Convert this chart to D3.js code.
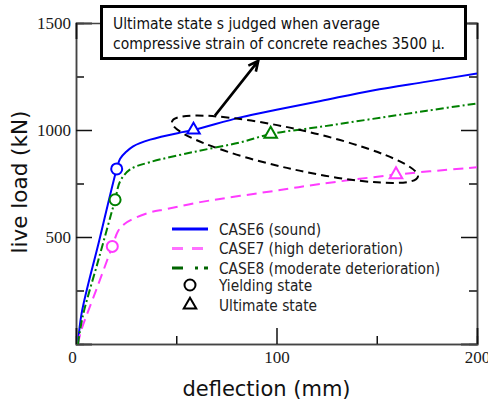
<!DOCTYPE html>
<html>
<head>
<meta charset="utf-8">
<script src="https://cdn.jsdelivr.net/npm/d3@7"></script>
<style>
  body { margin: 0; background: #fff; }
  .cond { font-family: "DejaVu Sans Condensed", "DejaVu Sans", sans-serif; font-stretch: condensed; }
</style>
</head>
<body>
<div class="vis-loadcurve"></div>
<script>
// load - deflection curves
const case6Deflection = [1, 2.8, 11.5, 20.3, 22, 25, 28.5, 37, 53, 58.6, 82, 100, 122, 148, 175, 200];
const case6Load = [0, 143, 480, 818, 866, 898, 924, 955, 990, 1000, 1059, 1095, 1136, 1185, 1226, 1264];
const case7Deflection = [1, 2.5, 10.3, 18.1, 21, 24, 28.5, 37, 45, 62, 100, 122, 160, 200];
const case7Load = [0, 60, 258, 456, 528, 560, 585, 615, 630, 663, 717, 748, 792, 826];
const case8Deflection = [1, 3.3, 11.4, 19.5, 22, 27, 37, 60, 82, 97.1, 122, 148, 175, 200];
const case8Load = [0, 127, 400, 674, 760, 816, 850, 900, 942, 981, 1015, 1052, 1090, 1124];

// yielding / ultimate points, order: CASE6, CASE7, CASE8
const yieldDeflection = [20.3, 18.1, 19.5];
const yieldLoad = [818, 456, 674];
const ultimateDeflection = [58.6, 159.6, 97.1];
const ultimateLoad = [1000, 792, 981];

const seriesNames = ['CASE6 (sound)', 'CASE7 (high deterioration)', 'CASE8 (moderate deterioration)'];
const markerNames = ['Yielding state', 'Ultimate state'];

const xMajorTicks = [0, 100, 200];
const xMinorTicks = [50, 150];
const yMajorTicks = [0, 500, 1000, 1500];
const yMinorTicks = [250, 750, 1250];

const noteLines = ['Ultimate state s judged when average', 'compressive strain of concrete reaches 3500 \u03bc.'];
const ellipseCenter = [109.2, 910];
const arrowFrom = [69.3, 1067];
const arrowTo = [90.9, 1323];

const colors = ['#0000ff', '#ff3cff', '#008000'];
const legendColors = ['#0000ff', '#ff70ff', '#006400'];
const dashes = [null, '10,6', '8,3,2,3'];
const legendDashes = [null, '11,9', '11,12,3,6'];

const draw = () => {
  const margin = { top: 23, right: 11, bottom: 59, left: 76 };
  const width = 488 - margin.left - margin.right;
  const height = 403 - margin.top - margin.bottom;
  const root = d3.select('.vis-loadcurve').append('svg')
    .attr('width', 488).attr('height', 403);
  const svg = root.append('g')
    .attr('transform', `translate(${margin.left},${margin.top})`);

  const x = d3.scaleLinear().domain([0, 200]).range([0, width]);
  const y = d3.scaleLinear().domain([0, 1500]).range([height, 0]);

  const styleAxis = (g) => {
    g.select('.domain').attr('stroke', '#444').attr('stroke-width', 1.5);
    g.selectAll('.tick line').attr('stroke', '#111').attr('stroke-width', 1.5);
    g.selectAll('.tick text')
      .attr('font-family', '"Liberation Serif", "Times New Roman", serif')
      .attr('font-size', 17).attr('fill', '#1a1a1a');
  };

  // axes (ticks point inward)
  svg.append('g').call(d3.axisLeft(y).tickValues(yMinorTicks).tickSize(-8).tickFormat(''))
    .call(styleAxis);
  svg.append('g').call(d3.axisLeft(y).tickValues(yMajorTicks).tickSize(-16).tickPadding(5)
    .tickFormat((d) => (d === 0 ? '' : d))).call(styleAxis);
  svg.append('g').attr('transform', `translate(${width},0)`)
    .call(d3.axisRight(y).tickValues(yMinorTicks).tickSize(-8).tickFormat('')).call(styleAxis);
  svg.append('g').attr('transform', `translate(${width},0)`)
    .call(d3.axisRight(y).tickValues(yMajorTicks).tickSize(-16).tickFormat('')).call(styleAxis);
  svg.append('g').call(d3.axisTop(x).tickValues(xMajorTicks).tickSize(-16).tickFormat(''))
    .call(styleAxis);
  svg.append('g').attr('transform', `translate(0,${height})`)
    .call(d3.axisBottom(x).tickValues(xMinorTicks).tickSize(-8).tickFormat('')).call(styleAxis);
  const xAxis = svg.append('g').attr('transform', `translate(0,${height})`)
    .call(d3.axisBottom(x).tickValues(xMajorTicks).tickSize(-16).tickPadding(7)).call(styleAxis);
  xAxis.selectAll('.tick text').filter((d) => d === 0).attr('dx', -4);

  // axis titles
  root.append('text')
    .attr('x', 266.5).attr('y', 396)
    .attr('text-anchor', 'middle')
    .attr('font-family', '"DejaVu Sans", sans-serif').attr('font-size', 21).attr('fill', '#111')
    .text('deflection (mm)');
  root.append('text')
    .attr('transform', 'translate(27,182) rotate(-90)')
    .attr('text-anchor', 'middle')
    .attr('font-family', '"DejaVu Sans", sans-serif').attr('font-size', 21.5).attr('fill', '#111')
    .text('live load (kN)');

  // curves
  svg.append('clipPath').attr('id', 'plot-clip')
    .append('rect').attr('width', width).attr('height', height);
  const line = d3.line().x((d) => x(d[0])).y((d) => y(d[1])).curve(d3.curveCatmullRom.alpha(0.5));
  const series = [
    d3.zip(case6Deflection, case6Load),
    d3.zip(case7Deflection, case7Load),
    d3.zip(case8Deflection, case8Load)
  ];
  svg.selectAll('.curve')
    .data(series)
    .enter()
    .append('path')
    .attr('class', 'curve')
    .attr('clip-path', 'url(#plot-clip)')
    .attr('d', line)
    .attr('fill', 'none')
    .attr('stroke', (d, i) => colors[i])
    .attr('stroke-width', 2)
    .attr('stroke-dasharray', (d, i) => dashes[i]);

  // markers
  const tri = d3.symbol().type(d3.symbolTriangle).size(68);
  svg.selectAll('.yield')
    .data(d3.zip(yieldDeflection, yieldLoad))
    .enter()
    .append('circle')
    .attr('cx', (d) => x(d[0])).attr('cy', (d) => y(d[1]))
    .attr('r', 5.5)
    .attr('fill', '#fff')
    .attr('stroke', (d, i) => colors[i]).attr('stroke-width', 2);
  svg.selectAll('.ultimate')
    .data(d3.zip(ultimateDeflection, ultimateLoad))
    .enter()
    .append('path')
    .attr('d', tri)
    .attr('transform', (d) => `translate(${x(d[0])},${y(d[1])})`)
    .attr('fill', '#fff')
    .attr('stroke', (d, i) => colors[i]).attr('stroke-width', 2);

  // dashed ellipse round the ultimate points
  const ex = x(ellipseCenter[0]);
  const ey = y(ellipseCenter[1]);
  svg.append('ellipse')
    .attr('cx', ex).attr('cy', ey).attr('rx', 126).attr('ry', 20)
    .attr('transform', `rotate(12.6,${ex},${ey})`)
    .attr('fill', 'none').attr('stroke', '#000')
    .attr('stroke-width', 2).attr('stroke-dasharray', '8,5');

  // arrow to the note
  const ax0 = x(arrowFrom[0]);
  const ay0 = y(arrowFrom[1]);
  const ax1 = x(arrowTo[0]);
  const ay1 = y(arrowTo[1]);
  const ang = Math.atan2(ay0 - ay1, ax0 - ax1);
  const head = 11;
  const wing = (a) => [ax1 + head * Math.cos(a), ay1 + head * Math.sin(a)];
  const w1 = wing(ang + 0.45);
  const w2 = wing(ang - 0.45);
  svg.append('path')
    .attr('d', `M${ax0},${ay0}L${ax1},${ay1}M${w1}L${ax1},${ay1}L${w2}`)
    .attr('fill', 'none').attr('stroke', '#000').attr('stroke-width', 2.6);

  // note box
  const note = root.append('g').attr('class', 'cond');
  note.append('rect')
    .attr('x', 101.5).attr('y', 6.5).attr('width', 364).attr('height', 52)
    .attr('fill', '#fff').attr('stroke', '#000').attr('stroke-width', 3);
  note.selectAll('text')
    .data(noteLines)
    .enter()
    .append('text')
    .attr('x', 113).attr('y', (d, i) => 29 + i * 19.5)
    .attr('font-size', 15.5).attr('fill', '#111')
    .text((d) => d);

  // legend
  const legend = root.append('g').attr('class', 'cond')
    .attr('transform', 'translate(172,229)');
  seriesNames.forEach((name, i) => {
    const row = legend.append('g').attr('transform', `translate(0,${i * 19.5})`);
    row.append('line')
      .attr('x1', 0).attr('x2', 36)
      .attr('stroke', legendColors[i]).attr('stroke-width', 3)
      .attr('stroke-dasharray', legendDashes[i]);
    row.append('text')
      .attr('x', 47).attr('y', 5.5)
      .attr('font-size', 15.3).attr('fill', '#222')
      .text(name);
  });
  markerNames.forEach((name, i) => {
    const row = legend.append('g').attr('transform', `translate(0,${56 + i * 20})`);
    if (i === 0) {
      row.append('circle').attr('cx', 18).attr('r', 5.5)
        .attr('fill', 'none').attr('stroke', '#000').attr('stroke-width', 2);
    } else {
      row.append('path').attr('d', tri).attr('transform', 'translate(18,0)')
        .attr('fill', 'none').attr('stroke', '#000').attr('stroke-width', 2);
    }
    row.append('text')
      .attr('x', 47).attr('y', 5.5)
      .attr('font-size', 15.3).attr('fill', '#222')
      .text(name);
  });
};

draw();
</script>
</body>
</html>
